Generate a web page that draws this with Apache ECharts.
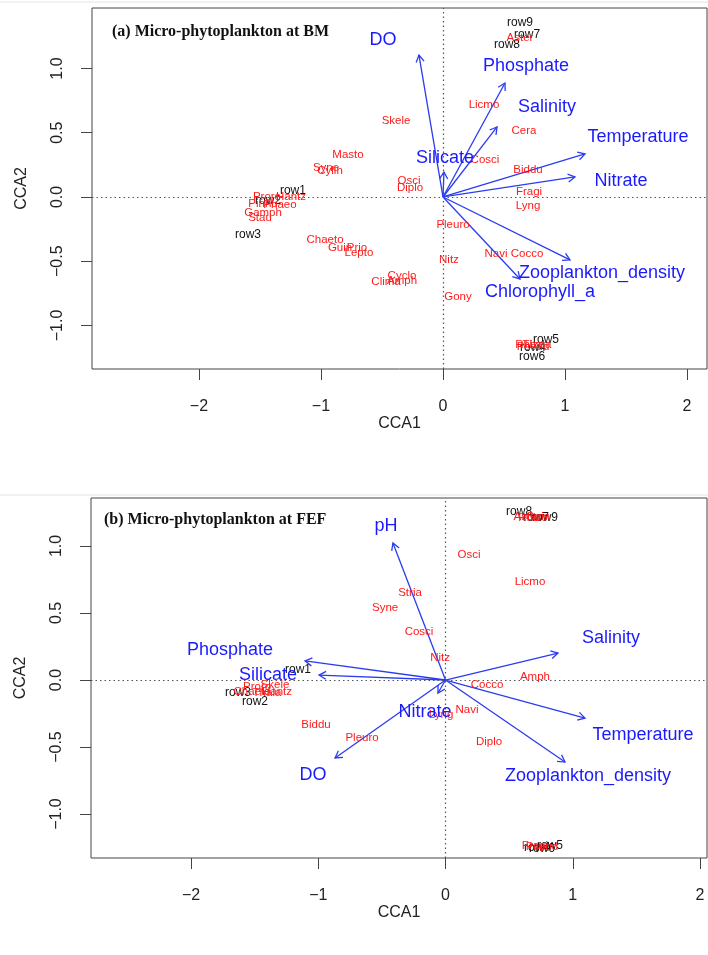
<!DOCTYPE html>
<html><head><meta charset="utf-8">
<script src="https://cdn.jsdelivr.net/npm/echarts@6/dist/echarts.min.js"></script>
<style>html,body{margin:0;padding:0;background:#fff}#c{width:708px;height:955px}</style>
</head><body><div id="c"></div>
<script>
// ---------- Panel (a): BM ----------
const aSpeciesNames = ["Skele","Masto","Syne","Cylin","Osci","Diplo","Pleuro","Nitz","Gony","Chaeto","Guin","Prio","Lepto","Clima","Cyclo","Amph","Licmo","Cosci","Cera","Biddu","Fragi","Lyng","Navi","Cocco","Aster","Proro","Hantz","Pinnu","Phaeo","Gamph","Stau","Rhizo","Pseud","Thala"];
const aSpeciesX = [-0.385,-0.779,-0.959,-0.926,-0.279,-0.270,0.082,0.049,0.123,-0.967,-0.844,-0.705,-0.689,-0.467,-0.336,-0.336,0.336,0.344,0.664,0.697,0.705,0.697,0.434,0.689,0.631,-1.443,-1.246,-1.475,-1.336,-1.475,-1.500,0.713,0.738,0.770];
const aSpeciesY = [0.591,0.327,0.226,0.202,0.125,0.070,-0.218,-0.490,-0.778,-0.335,-0.397,-0.397,-0.436,-0.661,-0.615,-0.654,0.716,0.288,0.514,0.210,0.039,-0.070,-0.444,-0.444,1.237,0.000,0.000,-0.054,-0.062,-0.125,-0.163,-1.152,-1.167,-1.152];
const aSiteNames = ["row1","row2","row3","row4","row5","row6","row7","row8","row9"];
const aSiteX = [-1.230,-1.434,-1.598,0.738,0.844,0.730,0.689,0.525,0.631];
const aSiteY = [0.047,-0.031,-0.296,-1.175,-1.113,-1.245,1.261,1.183,1.354];
const aEnvNames = ["DO","Phosphate","Salinity","Temperature","Silicate","Nitrate","Zooplankton_density","Chlorophyll_a"];
const aEnvX = [-0.197,0.508,0.443,1.164,0.008,1.082,1.041,0.631];
const aEnvY = [1.105,0.887,0.545,0.335,0.195,0.156,-0.490,-0.638];
const aEnvLabelX = [-0.492,0.680,0.852,1.598,0.016,1.459,1.303,0.795];
const aEnvLabelY = [1.222,1.019,0.700,0.467,0.304,0.125,-0.591,-0.739];

// ---------- Panel (b): FEF ----------
const bSpeciesNames = ["Osci","Licmo","Stria","Syne","Cosci","Nitz","Amph","Cocco","Navi","Diplo","Pleuro","Biddu","Lyng","Skele","Proro","Hantz","Chaeto","Thala","Aster","Rhizo","Guin","Fragi","Pseud"];
const bSpeciesX = [0.185,0.664,-0.279,-0.475,-0.208,-0.043,0.703,0.326,0.169,0.342,-0.656,-1.018,-0.035,-1.340,-1.481,-1.324,-1.521,-1.403,0.640,0.688,0.727,0.703,0.758];
const bSpeciesY = [0.933,0.731,0.649,0.537,0.358,0.164,0.022,-0.037,-0.224,-0.463,-0.433,-0.336,-0.261,-0.037,-0.052,-0.090,-0.090,-0.097,1.216,1.209,1.216,-1.239,-1.246];
const bSiteNames = ["row1","row2","row3","row4","row5","row6","row7","row8","row9"];
const bSiteX = [-1.159,-1.497,-1.631,0.719,0.821,0.758,0.711,0.578,0.782];
const bSiteY = [0.075,-0.164,-0.097,-1.254,-1.239,-1.261,1.209,1.254,1.209];
const bEnvNames = ["pH","Phosphate","Silicate","DO","Nitrate","Salinity","Temperature","Zooplankton_density"];
const bEnvX = [-0.413,-1.104,-0.994,-0.868,-0.059,0.884,1.096,0.939];
const bEnvY = [1.022,0.142,0.037,-0.582,-0.097,0.201,-0.284,-0.612];
const bEnvLabelX = [-0.468,-1.694,-1.395,-1.041,-0.161,1.301,1.552,1.120];
const bEnvLabelY = [1.149,0.224,0.037,-0.709,-0.239,0.313,-0.410,-0.716];

// ---------- tick values ----------
const xTicks = [-2,-1,0,1,2];
const yTicks = [-1,-0.5,0,0.5,1];

const RED = '#ff1a1a', BLUE = '#1a1aff', ARROW = '#2a3cf0', BLACK = '#111', AXIS = '#444';
const SANS = '"Liberation Sans", Arial, Helvetica, sans-serif';

function textSeries(gi, names, xs, ys, color, size, z) {
  return {
    type: 'custom', xAxisIndex: gi, yAxisIndex: gi, silent: true, z: z,
    encode: {x: 0, y: 1},
    data: xs.map((x, i) => [x, ys[i]]),
    renderItem: function (params, api) {
      const p = api.coord([api.value(0), api.value(1)]);
      return {
        type: 'text', x: p[0], y: p[1],
        style: {text: names[params.dataIndex], fill: color, font: size + 'px ' + SANS,
          align: 'center', verticalAlign: 'middle', textAlign: 'center', textVerticalAlign: 'middle'}
      };
    }
  };
}
function arrowSeries(gi, xs, ys) {
  return {
    type: 'custom', xAxisIndex: gi, yAxisIndex: gi, silent: true, z: 3,
    encode: {x: 0, y: 1},
    data: xs.map((x, i) => [x, ys[i]]),
    renderItem: function (params, api) {
      const p0 = api.coord([0, 0]);
      const p1 = api.coord([api.value(0), api.value(1)]);
      const ang = Math.atan2(p1[1] - p0[1], p1[0] - p0[0]);
      const L = 8, a = Math.PI / 6;
      const h1 = [p1[0] - L * Math.cos(ang - a), p1[1] - L * Math.sin(ang - a)];
      const h2 = [p1[0] - L * Math.cos(ang + a), p1[1] - L * Math.sin(ang + a)];
      return {type: 'group', children: [
        {type: 'line', shape: {x1: p0[0], y1: p0[1], x2: p1[0], y2: p1[1]}, style: {stroke: ARROW, lineWidth: 1.3}},
        {type: 'polyline', shape: {points: [h1, p1, h2]}, style: {stroke: ARROW, fill: null, lineWidth: 1.3}}
      ]};
    }
  };
}
function zeroLines(gi) {
  return {
    type: 'line', xAxisIndex: gi, yAxisIndex: gi, data: [], silent: true, z: 1,
    markLine: {silent: true, symbol: 'none', animation: false, label: {show: false},
      lineStyle: {type: [1.5, 3], color: '#555', width: 1.2},
      data: [{xAxis: 0}, {yAxis: 0}]}
  };
}
const fmt = v => String(v).replace('-', '\u2212');
const fmtY = v => Number(v).toFixed(1).replace('-', '\u2212');
function xAx(gi, min, max) {
  return {gridIndex: gi, type: 'value', min: min, max: max, position: 'bottom',
    name: 'CCA1', nameLocation: 'middle', nameGap: 46,
    nameTextStyle: {fontFamily: SANS, fontSize: 16, color: '#222'},
    splitLine: {show: false}, axisLine: {show: false, onZero: false},
    axisTick: {show: true, length: 11, lineStyle: {color: AXIS}, customValues: xTicks},
    axisLabel: {fontFamily: SANS, fontSize: 16, color: '#222', margin: 30, customValues: xTicks, formatter: fmt}};
}
function yAx(gi, min, max) {
  return {gridIndex: gi, type: 'value', min: min, max: max, position: 'left',
    name: 'CCA2', nameLocation: 'middle', nameGap: 62, nameRotate: 90,
    nameTextStyle: {fontFamily: SANS, fontSize: 16, color: '#222'},
    splitLine: {show: false}, axisLine: {show: false, onZero: false},
    axisTick: {show: true, length: 11, lineStyle: {color: AXIS}, customValues: yTicks},
    axisLabel: {fontFamily: SANS, fontSize: 16, color: '#222', margin: 26, rotate: 90, customValues: yTicks, formatter: fmtY}};
}

const option = {
  animation: false,
  backgroundColor: '#fff',
  grid: [
    {left: 92, top: 8, width: 615, height: 361, show: true, borderColor: AXIS, borderWidth: 1, backgroundColor: 'transparent'},
    {left: 91, top: 498, width: 616, height: 360, show: true, borderColor: AXIS, borderWidth: 1, backgroundColor: 'transparent'}
  ],
  xAxis: [xAx(0, -2.877, 2.164), xAx(1, -2.786, 2.055)],
  yAxis: [yAx(0, -1.339, 1.471), yAx(1, -1.328, 1.358)],
  graphic: [
    {type: 'line', shape: {x1: 0, y1: 2, x2: 708, y2: 2}, style: {stroke: '#e4e4e4', lineWidth: 1}},
    {type: 'line', shape: {x1: 0, y1: 495, x2: 708, y2: 495}, style: {stroke: '#e4e4e4', lineWidth: 1}},
    {type: 'text', left: 112, top: 24, style: {text: '(a) Micro-phytoplankton at BM', font: 'bold 16px "Liberation Serif", "Times New Roman", serif', fill: '#111'}},
    {type: 'text', left: 104, top: 512, style: {text: '(b) Micro-phytoplankton at FEF', font: 'bold 16px "Liberation Serif", "Times New Roman", serif', fill: '#111'}}
  ],
  series: [
    zeroLines(0), zeroLines(1),
    textSeries(0, aSiteNames, aSiteX, aSiteY, BLACK, 12, 4),
    textSeries(0, aSpeciesNames, aSpeciesX, aSpeciesY, RED, 11.5, 5),
    arrowSeries(0, aEnvX, aEnvY),
    textSeries(0, aEnvNames, aEnvLabelX, aEnvLabelY, BLUE, 18, 6),
    textSeries(1, bSiteNames, bSiteX, bSiteY, BLACK, 12, 4),
    textSeries(1, bSpeciesNames, bSpeciesX, bSpeciesY, RED, 11.5, 5),
    arrowSeries(1, bEnvX, bEnvY),
    textSeries(1, bEnvNames, bEnvLabelX, bEnvLabelY, BLUE, 18, 6)
  ]
};
const chart = echarts.init(document.getElementById('c'), null, {renderer: 'canvas'});
chart.setOption(option);
</script></body></html>
